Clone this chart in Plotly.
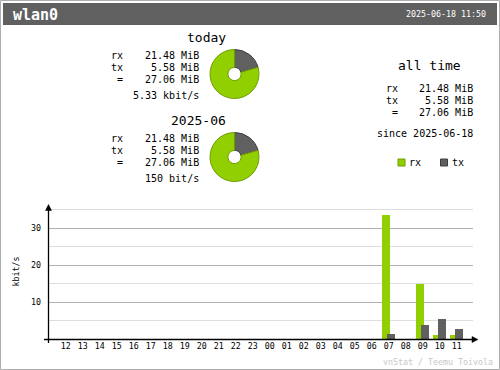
import plotly.graph_objects as go

W, H = 500, 370
MONO = "DejaVu Sans Mono"

# ---- data ----
hours = ["12", "13", "14", "15", "16", "17", "18", "19", "20", "21", "22", "23",
         "00", "01", "02", "03", "04", "05", "06", "07", "08", "09", "10", "11"]
rx_rate = [0, 0, 0, 0, 0, 0, 0, 0, 0, 0, 0, 0,
           0, 0, 0, 0, 0, 0, 0, 33.6, 0, 14.9, 1.2, 1.2]
tx_rate = [0, 0, 0, 0, 0, 0, 0, 0, 0, 0, 0, 0,
           0, 0, 0, 0, 0, 0, 0, 1.4, 0, 3.9, 5.5, 2.8]
y_ticks = [10, 20, 30]
y_minor = [5, 15, 25, 35]

today_rx, today_tx = 21.48, 5.58
month_rx, month_tx = 21.48, 5.58

RX = "#92CF00"
TX = "#606060"
RX_D = "#6E9C00"
TX_D = "#3E3E3E"


def px(x):
    return x / W


def py(y):
    return 1 - y / H


anns = []


def text(x, y, s, size=10, anchor="left", color="#000000", bold=False):
    anns.append(dict(
        x=px(x), y=py(y), xref="paper", yref="paper", text=("<b>%s</b>" % s) if bold else s,
        showarrow=False, xanchor=anchor, yanchor="middle", borderpad=0,
        font=dict(family=MONO, size=size, color=color)))


fig = go.Figure()

# ---- bars ----
xs = list(range(len(hours)))
fig.add_trace(go.Bar(x=xs, y=rx_rate, marker=dict(color=RX, line=dict(width=0)),
                     offset=-0.39, width=0.47, showlegend=False, hoverinfo="skip"))
fig.add_trace(go.Bar(x=xs, y=tx_rate, marker=dict(color=TX, line=dict(width=0)),
                     offset=-0.10, width=0.47, showlegend=False, hoverinfo="skip"))

# ---- pies ----
def pie(cy, rx, tx):
    r = 24.5
    cx = 234.5
    fig.add_trace(go.Pie(
        values=[tx, rx], labels=["tx", "rx"], sort=False, direction="clockwise", rotation=0,
        hole=0.27, textinfo="none", hoverinfo="skip", showlegend=False,
        marker=dict(colors=[TX, RX], line=dict(color=[TX_D, RX_D], width=1)),
        domain=dict(x=[px(cx - r), px(cx + r)], y=[py(cy + r), py(cy - r)])))


pie(74, today_rx, today_tx)
pie(157, month_rx, month_tx)

# ---- texts ----
text(12, 14.5, "wlan0", size=15, color="#FFFFFF", bold=True)
text(487, 14, "2025-06-18 11:50", size=8.3, anchor="right", color="#FFFFFF")

for off, title, rate, rxv, txv in [(0, "today", "5.33 kbit/s", today_rx, today_tx),
                                   (83, "2025-06", "150 bit/s", month_rx, month_tx)]:
    text(227, 37.5 + off, title, size=13, anchor="right")
    text(110, 55.5 + off, "rx")
    text(110, 67.5 + off, "tx")
    text(116, 79.5 + off, "=")
    text(200, 55.5 + off, "%.2f MiB" % rxv, anchor="right")
    text(200, 67.5 + off, "%.2f MiB" % txv, anchor="right")
    text(200, 79.5 + off, "%.2f MiB" % (rxv + txv), anchor="right")
    text(200, 95.5 + off, rate, anchor="right")

text(429, 65.5, "all time", size=13, anchor="center")
text(385, 88.5, "rx")
text(385, 100.5, "tx")
text(391, 112.5, "=")
text(474, 88.5, "%.2f MiB" % today_rx, anchor="right")
text(474, 100.5, "%.2f MiB" % today_tx, anchor="right")
text(474, 112.5, "%.2f MiB" % (today_rx + today_tx), anchor="right")
text(474, 133.5, "since 2025-06-18", anchor="right")
text(408, 162.5, "rx")
text(451, 162.5, "tx")

anns.append(dict(x=px(15), y=py(271.5), xref="paper", yref="paper", text="kbit/s",
                 textangle=-90, showarrow=False, xanchor="center", yanchor="middle",
                 font=dict(family=MONO, size=8.3, color="#000000")))
text(494, 361.5, "vnStat / Teemu Toivola", size=8.3, anchor="right", color="#C8C8C8")

# ---- shapes ----
shapes = []
# outer border
shapes.append(dict(type="rect", xref="paper", yref="paper", x0=px(0.5), x1=px(499.5),
                   y0=py(369.5), y1=py(0.5), line=dict(color="#AEAEAE", width=1),
                   fillcolor="rgba(0,0,0,0)", layer="below"))
# header
shapes.append(dict(type="rect", xref="paper", yref="paper", x0=px(3), x1=px(497),
                   y0=py(25), y1=py(3), line=dict(width=0), fillcolor="#606060", layer="below"))
# legend squares
for x0, c, d in [(398, RX, RX_D), (440.5, TX, TX_D)]:
    shapes.append(dict(type="rect", xref="paper", yref="paper", x0=px(x0), x1=px(x0 + 7),
                       y0=py(166), y1=py(159), line=dict(color=d, width=1), fillcolor=c))
# axes
shapes.append(dict(type="line", xref="paper", yref="paper", x0=px(48.5), x1=px(48.5),
                   y0=py(343), y1=py(208), line=dict(color="#000000", width=1.3)))
shapes.append(dict(type="line", xref="paper", yref="paper", x0=px(44), x1=px(474),
                   y0=py(339.5), y1=py(339.5), line=dict(color="#000000", width=1.3)))
shapes.append(dict(type="path", xref="paper", yref="paper",
                   path="M %f %f L %f %f L %f %f Z" % (px(48.5), py(204.5), px(45.5), py(210.5),
                                                       px(51.5), py(210.5)),
                   line=dict(color="#000000", width=0.5), fillcolor="#000000"))
shapes.append(dict(type="path", xref="paper", yref="paper",
                   path="M %f %f L %f %f L %f %f Z" % (px(478), py(339.5), px(472), py(336.5),
                                                       px(472), py(342.5)),
                   line=dict(color="#000000", width=0.5), fillcolor="#000000"))

fig.update_layout(
    width=W, height=H, margin=dict(l=0, r=0, t=0, b=0),
    paper_bgcolor="#FFFFFF", plot_bgcolor="#FFFFFF",
    barmode="overlay", bargap=0,
    annotations=anns, shapes=shapes,
    xaxis=dict(domain=[px(48), px(473)], range=[-1.04, 23.96], tickmode="array",
               tickvals=xs, ticktext=hours, showgrid=False, zeroline=False, showline=False,
               ticks="", tickfont=dict(family=MONO, size=8.3, color="#000000"),
               ticklabelstandoff=0, fixedrange=True),
    yaxis=dict(domain=[py(339.3), py(205)], range=[0, 36.3], tickmode="array",
               tickvals=y_ticks, ticktext=[str(v) for v in y_ticks],
               showgrid=True, gridcolor="#B0B0B0", gridwidth=1, zeroline=False, showline=False,
               ticks="", ticklabelstandoff=6,
               tickfont=dict(family=MONO, size=8.3, color="#000000"),
               minor=dict(tickvals=y_minor, showgrid=True, gridcolor="#DEDEDE", gridwidth=1),
               fixedrange=True),
)

fig.write_html("out.html", config={"displayModeBar": False},
               post_script="document.body.style.margin='0';document.body.style.overflow='hidden';")
